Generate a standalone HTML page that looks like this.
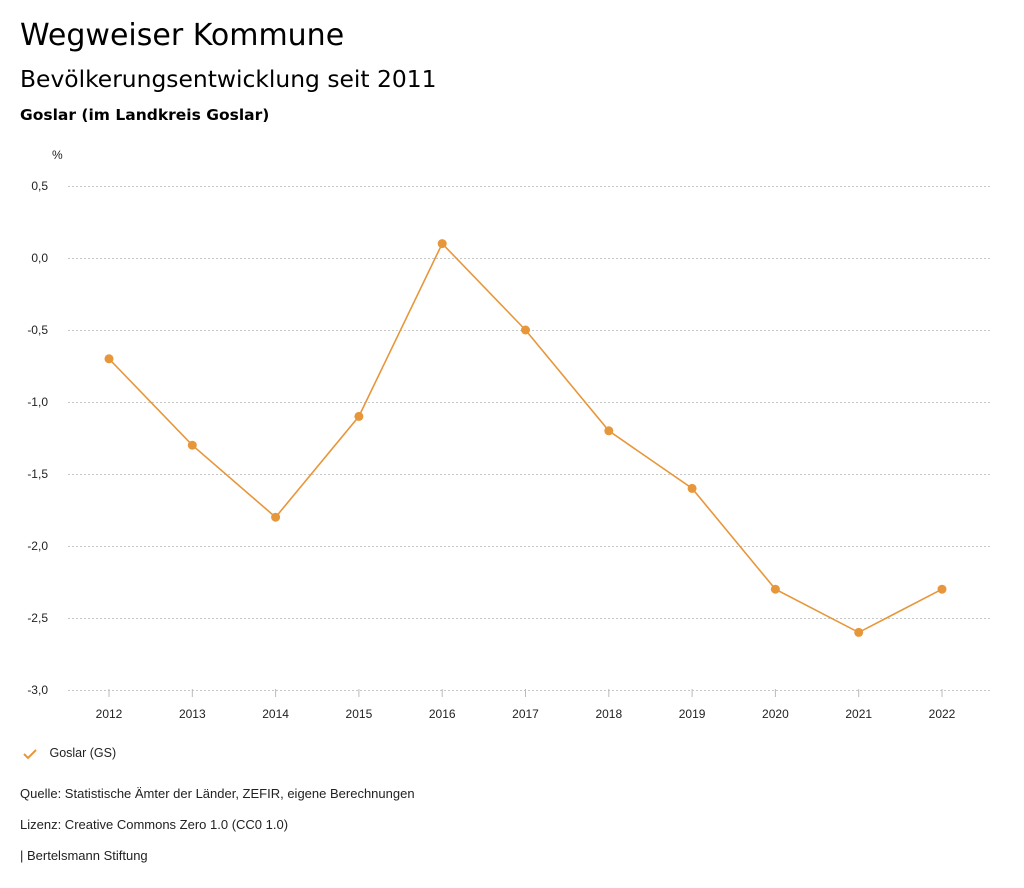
<!DOCTYPE html>
<html><head><meta charset="utf-8">
<style>
body{margin:0;background:#fff;width:1024px;height:888px;overflow:hidden;font-family:"Liberation Sans",sans-serif;color:#222}
.t{position:absolute;left:20px;white-space:nowrap;font-family:"DejaVu Sans",sans-serif;color:#000}
.f{position:absolute;left:20px;font-size:13px;color:#222;white-space:nowrap}
</style></head><body>
<div class="t" style="top:18px;font-size:30px">Wegweiser Kommune</div>
<div class="t" style="top:65px;font-size:23.4px">Bevölkerungsentwicklung seit 2011</div>
<div class="t" style="top:106px;font-size:15.5px;font-weight:bold">Goslar (im Landkreis Goslar)</div>
<svg id="chart" width="1024" height="888" style="position:absolute;left:0;top:0">
<text x="52" y="159" font-size="12" fill="#222">%</text>
<g id="grid"></g><g id="xt"></g><g id="series"></g>
</svg>
<div style="position:absolute;left:22px;top:746px;font-size:12.5px;white-space:nowrap">
<svg width="16" height="12" style="vertical-align:middle"><path d="M2 6 L6 10 L14 2" fill="none" stroke="#e8963a" stroke-width="2"/></svg>
<span style="margin-left:8px">Goslar (GS)</span></div>
<div class="f" style="top:786px">Quelle: Statistische Ämter der Länder, ZEFIR, eigene Berechnungen</div>
<div class="f" style="top:817px">Lizenz: Creative Commons Zero 1.0 (CC0 1.0)</div>
<div class="f" style="top:848px">| Bertelsmann Stiftung</div>
<script>
const years=["2012","2013","2014","2015","2016","2017","2018","2019","2020","2021","2022"];
const values=[-0.7,-1.3,-1.8,-1.1,0.1,-0.5,-1.2,-1.6,-2.3,-2.6,-2.3];
const yTicks=[0.5,0,-0.5,-1,-1.5,-2,-2.5,-3];
const yTickLabels=["0,5","0,0","-0,5","-1,0","-1,5","-2,0","-2,5","-3,0"];
const NS="http://www.w3.org/2000/svg";
const y=v=>258-(v*144);
const x=i=>109+i*(942-109)/(years.length-1);
function mk(t,a,p){const e=document.createElementNS(NS,t);for(const k in a)e.setAttribute(k,a[k]);p.appendChild(e);return e;}
const g=document.getElementById('grid'),xt=document.getElementById('xt'),s=document.getElementById('series');
yTicks.forEach((v,i)=>{
 const l=mk('line',{x1:68,x2:990,y1:y(v)+0.5,y2:y(v)+0.5,stroke:'#b5b5b5','stroke-dasharray':'2,2','stroke-width':0.8},g);
 
 
 const t=mk('text',{x:48,y:y(v)+4,'font-size':12,'text-anchor':'end',fill:'#222'},g);
 t.textContent=yTickLabels[i];
 
 
});
years.forEach((yr,i)=>{
 const l=mk('line',{x1:x(i),x2:x(i),y1:689,y2:697,stroke:'#bbb'},xt);
 
 
 const t=mk('text',{x:x(i),y:718,'font-size':12,'text-anchor':'middle',fill:'#222'},xt);
 t.textContent=yr;
 
 
});
const pl=mk('polyline',{points:values.map((v,i)=>x(i)+','+y(v)).join(' '),fill:'none',stroke:'#e8963a','stroke-width':1.6},s);


values.forEach((v,i)=>{
 const c=mk('circle',{cx:x(i),cy:y(v),r:4.5,fill:'#e8963a'},s);
 
 
});
</script>
</body></html>
